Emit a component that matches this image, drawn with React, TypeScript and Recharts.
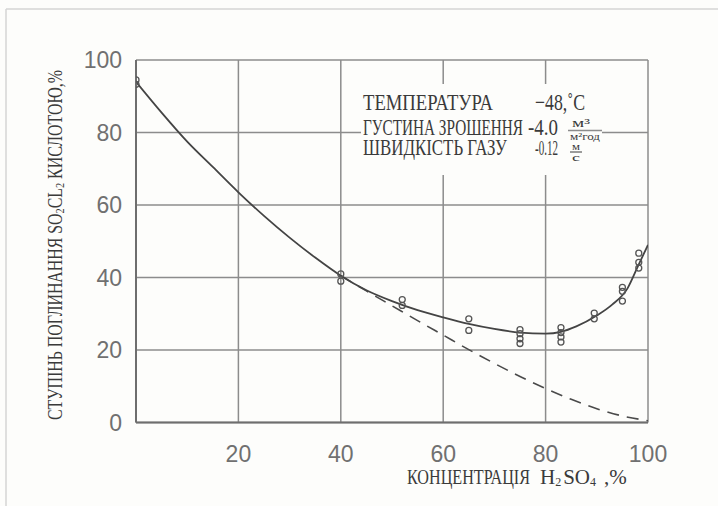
import React from 'react'
import { ComposedChart, Line, Scatter, XAxis, YAxis, CartesianGrid } from 'recharts'

// solid fitted curve (absorption degree vs H2SO4 concentration)
const curveX = [0, 5, 10, 15, 20, 25, 30, 35, 40, 45, 50, 55, 60, 65, 70, 75, 80, 83, 86, 90, 93, 96, 98, 100]
const curveY = [94, 85.5, 77.5, 70.5, 63.5, 57, 51, 45.5, 40.5, 36.5, 33.5, 31, 29, 27.2, 25.8, 24.8, 24.5, 25, 26.5, 29.5, 32.5, 37, 43, 49]

// dashed extrapolation
const dashX = [40, 45, 50, 55, 60, 65, 70, 75, 80, 85, 90, 95, 100]
const dashY = [40.5, 36.3, 32.2, 28.1, 24.1, 20.1, 16.3, 12.7, 9.4, 6.4, 3.8, 1.8, 0.5]

// measured points (open circles)
const pointX = [0, 0, 40, 40, 52, 52, 65, 65, 75, 75, 75, 75, 83, 83, 83, 83, 89.5, 89.5, 95, 95, 95, 98.2, 98.2, 98.2]
const pointY = [94.5, 93.3, 41, 39, 33.9, 32.3, 28.6, 25.4, 25.6, 24.5, 23.1, 21.8, 26.2, 24.8, 23.6, 22.2, 30.2, 28.6, 37.3, 36.2, 33.5, 46.7, 44.2, 42.6]

const xTicks = [20, 40, 60, 80, 100]
const yTicks = [0, 20, 40, 60, 80, 100]

const curveData = curveX.map((x, i) => ({ x, y: curveY[i] }))
const dashData = dashX.map((x, i) => ({ x, y: dashY[i] }))
const pointData = pointX.map((x, i) => ({ x, y: pointY[i] }))

const bg = '#fdfdfb'
const ink = '#3a3a3a'
const serif = '"Liberation Serif", "DejaVu Serif", serif'
const tickStyle = { fill: '#707070', fontSize: 23, fontFamily: '"Liberation Sans", Arial, sans-serif' }

const Ring = (props: any) => (
  <circle cx={props.cx} cy={props.cy} r={3} fill="none" stroke="#555" strokeWidth={1.3} />
)

export default function App() {
  return (
    <div style={{ position: 'absolute', left: 0, top: 0, width: 718, height: 506, background: bg, overflow: 'hidden' }}>
      <ComposedChart width={718} height={506} margin={{ top: 60, right: 70, bottom: 43.5, left: 0 }}>
        <CartesianGrid stroke="#8c8c8c" strokeWidth={1.5} />
        <XAxis
          type="number"
          dataKey="x"
          domain={[0, 100]}
          ticks={xTicks}
          allowDataOverflow
          height={40}
          axisLine={{ stroke: '#6e6e6e', strokeWidth: 2 }}
          tickLine={false}
          tickMargin={17}
          tick={tickStyle}
        />
        <YAxis
          type="number"
          domain={[0, 100]}
          ticks={yTicks}
          allowDataOverflow
          width={136}
          axisLine={{ stroke: '#6e6e6e', strokeWidth: 2 }}
          tickLine={false}
          tickMargin={8}
          tick={tickStyle}
        />
        <Line data={dashData} dataKey="y" type="monotone" stroke="#4a4a4a" strokeWidth={1.6} strokeDasharray="12 8" dot={false} isAnimationActive={false} />
        <Line data={curveData} dataKey="y" type="monotone" stroke="#444" strokeWidth={1.8} dot={false} isAnimationActive={false} />
        <Scatter data={pointData} dataKey="y" shape={Ring} isAnimationActive={false} />
      </ComposedChart>

      <svg width={718} height={506} style={{ position: 'absolute', left: 0, top: 0, pointerEvents: 'none' }}>
        {/* faint scan frame */}
        <line x1={6} y1={9} x2={718} y2={9} stroke="#d4d4d4" strokeWidth={1.5} />
        <line x1={6} y1={9} x2={6} y2={506} stroke="#d4d4d4" strokeWidth={1.5} />

        {/* legend block */}
        <rect x={361} y={84} width={241} height={91} fill={bg} />
        <g fill={ink} fontFamily={serif}>
          <text x={363} y={110} fontSize={23} textLength={130} lengthAdjust="spacingAndGlyphs">ТЕМПЕРАТУРА</text>
          <text x={535} y={110} fontSize={23} textLength={50} lengthAdjust="spacingAndGlyphs">−48,˚C</text>
          <text x={363} y={135} fontSize={23} textLength={160} lengthAdjust="spacingAndGlyphs">ГУСТИНА ЗРОШЕННЯ</text>
          <text x={528} y={135} fontSize={23} textLength={30} lengthAdjust="spacingAndGlyphs">-4.0</text>
          <text x={572} y={127} fontSize={12} textLength={18} lengthAdjust="spacingAndGlyphs">м³</text>
          <line x1={568} y1={130.5} x2={602} y2={130.5} stroke="#8c8c8c" strokeWidth={1.5} />
          <text x={570} y={140} fontSize={10} textLength={30} lengthAdjust="spacingAndGlyphs">м²год</text>
          <text x={363} y={155} fontSize={23} textLength={144} lengthAdjust="spacingAndGlyphs">ШВИДКІСТЬ ГАЗУ</text>
          <text x={535} y={155} fontSize={22} textLength={23} lengthAdjust="spacingAndGlyphs">-0.12</text>
          <text x={572} y={150} fontSize={11} textLength={8} lengthAdjust="spacingAndGlyphs">м</text>
          <line x1={570} y1={152} x2={582} y2={152} stroke={ink} strokeWidth={1} />
          <text x={572} y={161} fontSize={10} textLength={8} lengthAdjust="spacingAndGlyphs">с</text>
        </g>

        {/* axis titles */}
        <g fill={ink} fontFamily={serif}>
          <text x={407} y={484} fontSize={22} textLength={123} lengthAdjust="spacingAndGlyphs">КОНЦЕНТРАЦІЯ</text>
          <text x={540} y={484} fontSize={21}>
            H<tspan fontSize={12} dy={2}>2</tspan>
            <tspan dy={-2} dx={2}>SO</tspan>
            <tspan fontSize={12} dy={2}>4</tspan>
            <tspan dy={-2} x={604}>,%</tspan>
          </text>
          <text
            x={62}
            y={245}
            fontSize={20}
            textAnchor="middle"
            transform="rotate(-90, 62, 245)"
            textLength={350}
            lengthAdjust="spacingAndGlyphs"
          >
            СТУПІНЬ ПОГЛИНАННЯ SO<tspan fontSize={13} dy={2}>2</tspan>
            <tspan dy={-2}>CL</tspan>
            <tspan fontSize={13} dy={2}>2</tspan>
            <tspan dy={-2}> КИСЛОТОЮ,%</tspan>
          </text>
        </g>
      </svg>
    </div>
  )
}
